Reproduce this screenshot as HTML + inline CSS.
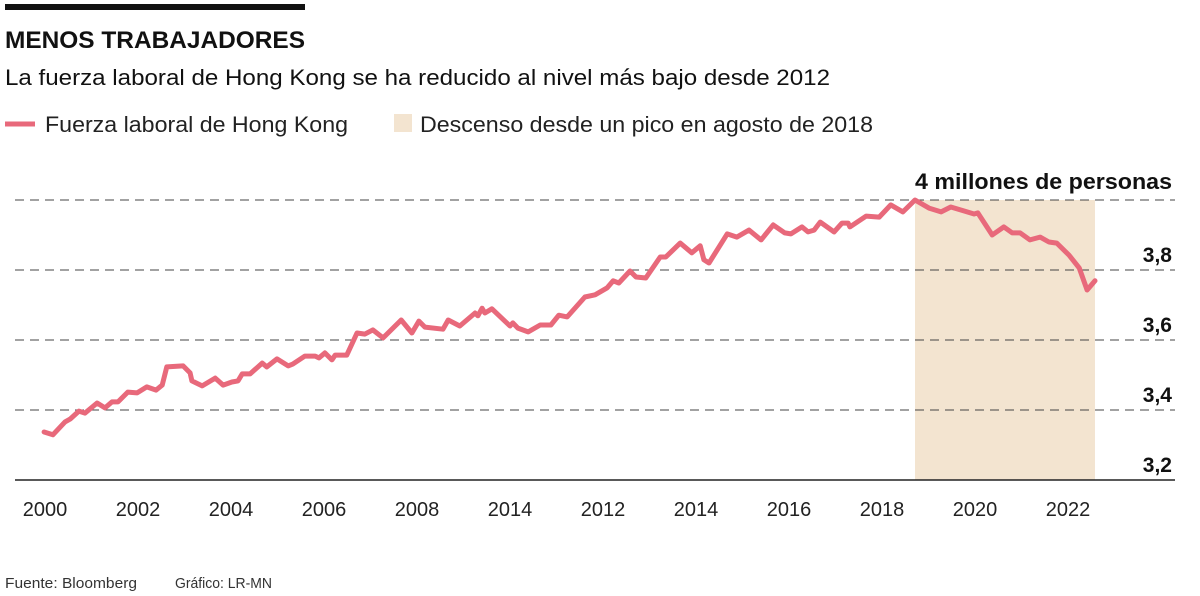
<!DOCTYPE html>
<html><head><meta charset="utf-8"><style>
body{margin:0;background:#fff;width:1200px;height:591px;overflow:hidden;font-family:"Liberation Sans",sans-serif}
svg text{font-family:"Liberation Sans",sans-serif}
</style></head><body>
<svg id="chart" width="1200" height="591">
<rect x="5" y="4" width="300" height="6" fill="#111"/>
<text x="5" y="48" font-size="24" font-weight="bold" fill="#111" textLength="300" lengthAdjust="spacingAndGlyphs">MENOS TRABAJADORES</text>
<text x="5" y="85" font-size="22" fill="#111" textLength="825" lengthAdjust="spacingAndGlyphs">La fuerza laboral de Hong Kong se ha reducido al nivel más bajo desde 2012</text>
<g>
<line x1="5" y1="124" x2="35" y2="124" stroke="#e8697b" stroke-width="5"/>
<text x="45" y="132" font-size="22" fill="#222" textLength="303" lengthAdjust="spacingAndGlyphs">Fuerza laboral de Hong Kong</text>
<rect x="394" y="114" width="18" height="18" fill="#f3e4d0"/>
<text x="420" y="132" font-size="22" fill="#222" textLength="453" lengthAdjust="spacingAndGlyphs">Descenso desde un pico en agosto de 2018</text>
</g>
<text x="915" y="189" font-size="22" font-weight="bold" fill="#111" textLength="257" lengthAdjust="spacingAndGlyphs">4 millones de personas</text>
<g id="shade"></g><g id="grid"></g><g id="line"></g><g id="xlabels"></g>
<text x="5" y="588" font-size="15" fill="#333" textLength="132" lengthAdjust="spacingAndGlyphs">Fuente: Bloomberg</text>
<text x="175" y="588" font-size="15" fill="#333" textLength="97" lengthAdjust="spacingAndGlyphs">Gráfico: LR-MN</text>
</svg>
<script>
const years=[1999.98,2000.17,2000.43,2000.54,2000.73,2000.86,2001.12,2001.29,2001.44,2001.57,2001.78,2001.98,2002.19,2002.39,2002.52,2002.62,2002.97,2003.12,2003.16,2003.38,2003.66,2003.83,2004.02,2004.15,2004.24,2004.41,2004.67,2004.77,2004.99,2005.23,2005.33,2005.59,2005.81,2005.89,2006.02,2006.17,2006.24,2006.49,2006.71,2006.88,2007.05,2007.27,2007.66,2007.89,2008.04,2008.17,2008.56,2008.67,2008.92,2009.25,2009.31,2009.40,2009.46,2009.61,2010.00,2010.06,2010.17,2010.39,2010.65,2010.88,2011.05,2011.23,2011.61,2011.83,2012.09,2012.22,2012.34,2012.58,2012.71,2012.92,2013.23,2013.35,2013.66,2013.91,2014.09,2014.17,2014.28,2014.67,2014.88,2015.14,2015.40,2015.66,2015.91,2016.04,2016.28,2016.41,2016.54,2016.67,2016.97,2017.14,2017.27,2017.31,2017.66,2017.94,2018.19,2018.45,2018.71,2019.01,2019.27,2019.48,2019.76,2019.98,2020.06,2020.37,2020.62,2020.80,2020.97,2021.18,2021.40,2021.59,2021.76,2022.02,2022.24,2022.41,2022.58];
const values=[3.337,3.329,3.366,3.374,3.397,3.391,3.420,3.406,3.423,3.423,3.451,3.449,3.466,3.457,3.471,3.523,3.526,3.506,3.483,3.469,3.491,3.471,3.480,3.483,3.503,3.503,3.534,3.523,3.546,3.526,3.531,3.554,3.554,3.549,3.563,3.543,3.557,3.557,3.620,3.617,3.629,3.606,3.657,3.620,3.654,3.637,3.631,3.657,3.640,3.677,3.669,3.691,3.677,3.689,3.640,3.649,3.634,3.623,3.643,3.643,3.671,3.666,3.723,3.729,3.749,3.769,3.763,3.797,3.780,3.777,3.837,3.837,3.877,3.849,3.869,3.829,3.820,3.903,3.894,3.914,3.886,3.929,3.906,3.903,3.923,3.909,3.914,3.937,3.909,3.934,3.934,3.923,3.954,3.951,3.986,3.966,4.000,3.977,3.966,3.980,3.969,3.960,3.963,3.900,3.923,3.906,3.906,3.886,3.894,3.880,3.877,3.843,3.806,3.743,3.769];
const yTicks=[4.0,3.8,3.6,3.4,3.2];
const yTickLabels=["","3,8","3,6","3,4","3,2"];
const xTicks=[2000,2002,2004,2006,2008,2010,2012,2014,2016,2018,2020,2022];
const xTickLabels=["2000","2002","2004","2006","2008","2014","2012","2014","2016","2018","2020","2022"];
const shadeRange=[2018.71,2022.58];
const NS="http://www.w3.org/2000/svg";
const xs=t=>45+(t-2000)*46.5;
const ys=v=>200+(4-v)*350;
function mk(tag,attrs,parent){const e=document.createElementNS(NS,tag);for(const k in attrs)e.setAttribute(k,attrs[k]);document.getElementById(parent).appendChild(e);return e;}
const sh=mk('rect',{x:xs(shadeRange[0]),y:ys(4),width:xs(shadeRange[1])-xs(shadeRange[0]),height:ys(3.2)-ys(4),fill:'#f3e4d0'},'shade');


yTicks.forEach((v,i)=>{
  const last=i===yTicks.length-1;
  const l=mk('line',{x1:15,x2:1175,y1:ys(v),y2:ys(v),stroke:last?'#222':'#444','stroke-width':last?1.5:1,'stroke-dasharray':last?'':'9,6'},'grid');
  
  
  if(yTickLabels[i]){const t=mk('text',{x:1172,y:ys(v)-8,'font-size':21,'font-weight':'bold','text-anchor':'end',fill:'#111'},'grid');t.textContent=yTickLabels[i];
  
  }
});
const p=mk('polyline',{points:years.map((t,i)=>xs(t).toFixed(1)+','+ys(values[i]).toFixed(1)).join(' '),fill:'none',stroke:'#e8697b','stroke-width':5,'stroke-linejoin':'round','stroke-linecap':'round'},'line');


xTicks.forEach((t,i)=>{const e=mk('text',{x:xs(t),y:516,'font-size':20,'text-anchor':'middle',fill:'#222'},'xlabels');e.textContent=xTickLabels[i];

});
</script>
</body></html>
